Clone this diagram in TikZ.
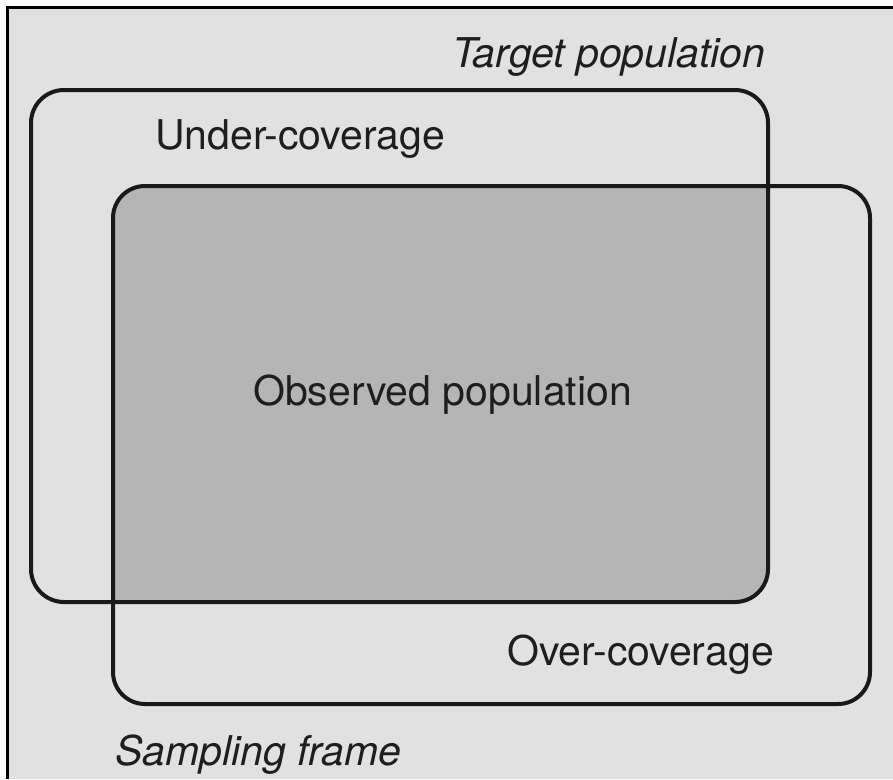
\documentclass[tikz,border=0pt]{standalone}
\usepackage{fontspec}
\setmainfont{TeX Gyre Heros}
\definecolor{bgc}{HTML}{E1E1E1}
\definecolor{obs}{HTML}{B5B5B5}
\definecolor{txt}{HTML}{1E1E1E}
\tikzset{
  lbl/.style={anchor=base west, inner sep=0pt, text=txt, font=\fontsize{41}{46}\selectfont},
  ilbl/.style={lbl, font=\fontsize{41}{46}\selectfont\itshape},
  frameline/.style={line width=4pt, draw=black!90}
}
\begin{document}
\begin{tikzpicture}[x=1pt,y=-1pt]
\useasboundingbox (0,0) rectangle (893,779);
\fill[white] (0,0) rectangle (893,779);
\fill[bgc] (7,7) rectangle (893,779);
\draw[line width=3pt] (7,779) -- (7,7) -- (893,7);
% observed (intersection) region
\begin{scope}
  \clip[rounded corners=33pt] (31,90) rectangle (768,602);
  \fill[obs, rounded corners=32pt] (113,186) rectangle (870,704);
\end{scope}
% target population
\draw[frameline, rounded corners=33pt] (31,90) rectangle (768,602);
% sampling frame
\draw[frameline, rounded corners=32pt] (113,186) rectangle (870,704);
% labels
\node[ilbl] (target) at (452,67) {Target population};
\node[lbl] (under) at (155,149) {Under-coverage};
\node[lbl] (obsv) at (253,405) {Observed population};
\node[lbl] (over) at (507,665) {Over-coverage};
\node[ilbl] (frame) at (115,765) {Sampling frame};
\end{tikzpicture}
\end{document}
